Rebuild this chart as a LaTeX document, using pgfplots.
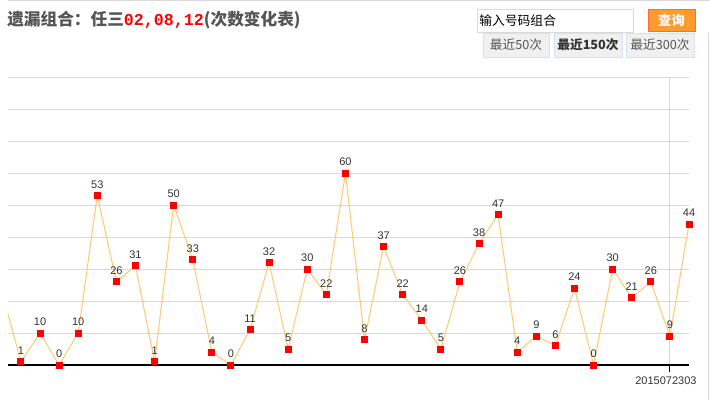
\documentclass[border=0pt]{standalone}
\usepackage{pgfplots}
\pgfplotsset{compat=1.18}
\usepackage{fontspec}
\setmainfont{Liberation Sans}
\newfontfamily\cjk{Noto Sans CJK SC}
\newfontfamily\monob{Liberation Mono}
\definecolor{linec}{HTML}{FFC870}
\definecolor{gridc}{HTML}{D9D9D9}
\definecolor{titlec}{HTML}{555555}
\definecolor{btnfill}{HTML}{F0F0F0}
\definecolor{btnborder}{HTML}{D4E2F7}
\definecolor{orangebtn}{HTML}{FF9A2E}
\definecolor{orangeborder}{HTML}{FF6A3A}
\definecolor{labc}{HTML}{333333}
\begin{document}
\begin{tikzpicture}
\path[use as bounding box] (0pt,0pt) rectangle (532.5pt,-300pt);
\fill[white] (0pt,0pt) rectangle (532.5pt,-300pt);
\begin{scope}[x=0.75pt,y=-0.75pt]
% top border and right border
\draw[gridc, line width=0.75pt] (8,0.5) -- (710,0.5);
\draw[gridc, line width=0.75pt] (708.5,33) -- (708.5,400);
% title
\node[anchor=west, inner sep=0pt, text=titlec, font=\cjk\bfseries\fontsize{12.5}{14}\selectfont] at (7,20)
  {遗漏组合：任三{\monob\color{red}02,08,12}(次数变化表)};
% input box
\draw[fill=white, draw=gridc, line width=0.75pt] (477,9) rectangle (633,32);
\node[anchor=west, inner sep=0pt, text=black, font=\cjk\fontsize{9.6}{12}\selectfont] at (479,20.5) {输入号码组合};
% query button
\draw[fill=orangebtn, draw=orangeborder, line width=0.75pt] (648,9) rectangle (695,31);
\node[inner sep=0pt, text=white, font=\cjk\bfseries\fontsize{10}{12}\selectfont] at (671.5,20) {查询};
% range buttons
\draw[fill=btnfill, draw=btnborder, line width=0.75pt] (483,33) rectangle (549,57);
\draw[fill=btnfill, draw=btnborder, line width=0.75pt] (554,33) rectangle (622,57);
\draw[fill=btnfill, draw=btnborder, line width=0.75pt] (626,33) rectangle (694,57);
\node[inner sep=0pt, text=titlec, font=\cjk\fontsize{9.5}{11}\selectfont] at (516,45) {最近50次};
\node[inner sep=0pt, text=labc, font=\cjk\bfseries\fontsize{9.5}{11}\selectfont] at (588,45) {最近150次};
\node[inner sep=0pt, text=titlec, font=\cjk\fontsize{9.5}{11}\selectfont] at (660,45) {最近300次};
\end{scope}
\begin{axis}[
  at={(6pt,-273.75pt)}, anchor=south west,
  scale only axis, width=510.75pt, height=216pt,
  xmin=-0.68, xmax=35, ymin=0, ymax=90,
  axis lines*=left,
  x axis line style={black, line width=1.5pt},
  y axis line style={draw=none},
  ytick={10,20,...,90}, yticklabels={},
  ymajorgrids, xmajorgrids,
  grid style={gridc, line width=0.75pt},
  xtick={34}, xticklabels={2015072303},
  tick align=outside, major tick length=5pt,
  xtick style={black, line width=0.75pt},
  ytick style={draw=none},
  xticklabel style={font=\fontsize{8.25}{9}\selectfont, text=labc, xshift=-3pt},
  /pgf/number format/assume math mode=true,
  clip mode=individual,
]
\addplot[linec, line width=0.75pt, forget plot] coordinates {(-1,23) (0,1)};
\addplot[linec, line width=0.75pt, mark=square*, mark size=2.25pt,
  mark options={fill=red, draw=red, solid},
  nodes near coords,
  every node near coord/.append style={anchor=base, inner sep=0pt, yshift=5.5pt,
    font=\fontsize{8.25}{9}\selectfont, text=labc}]
coordinates {
(0,1) (1,10) (2,0) (3,10) (4,53) (5,26) (6,31) (7,1) (8,50) (9,33)
(10,4) (11,0) (12,11) (13,32) (14,5) (15,30) (16,22) (17,60) (18,8) (19,37)
(20,22) (21,14) (22,5) (23,26) (24,38) (25,47) (26,4) (27,9) (28,6) (29,24)
(30,0) (31,30) (32,21) (33,26) (34,9) (35,44)
};
\end{axis}
\end{tikzpicture}
\end{document}
